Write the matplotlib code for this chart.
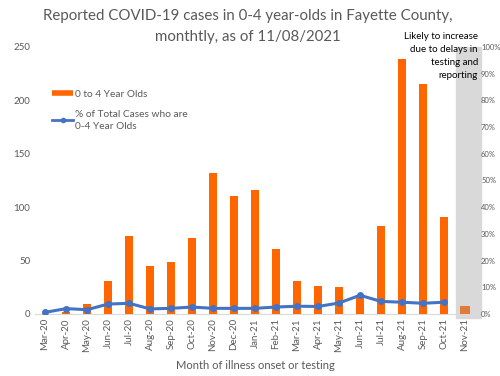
import numpy as np
import matplotlib
matplotlib.use('Agg')
import matplotlib.pyplot as plt
from matplotlib.patches import Rectangle
from matplotlib.lines import Line2D
from matplotlib.ticker import PercentFormatter

plt.rcParams['font.family'] = ['Lato', 'DejaVu Sans']

months = ['Mar-20', 'Apr-20', 'May-20', 'Jun-20', 'Jul-20', 'Aug-20', 'Sep-20',
          'Oct-20', 'Nov-20', 'Dec-20', 'Jan-21', 'Feb-21', 'Mar-21', 'Apr-21',
          'May-21', 'Jun-21', 'Jul-21', 'Aug-21', 'Sep-21', 'Oct-21', 'Nov-21']
cases = [0, 2, 9, 31, 73, 45, 49, 71, 132, 110, 116, 61, 31, 26, 25, 16,
         82, 239, 215, 91, 7]
pct = [0.6, 2.0, 1.6, 3.7, 4.0, 1.9, 2.1, 2.6, 2.1, 2.1, 2.1, 2.6, 2.9, 2.8,
       4.1, 7.0, 4.7, 4.4, 4.0, 4.4]

grey = '#595959'
fig = plt.figure(figsize=(5, 3.76), dpi=100)
ax = fig.add_axes([0.069, 0.165, 0.882, 0.71])

# shaded box for incomplete month
ax.add_patch(Rectangle((456 / 500, 1 - 318 / 376), 25 / 500, 271 / 376,
                       transform=fig.transFigure, color='#D9D9D9', zorder=0,
                       clip_on=False))

x = np.arange(len(months))
colors = ['#FF6600'] * (len(months) - 1) + ['#E07B39']
widths = [0.38] * (len(months) - 1) + [0.45]
ax.bar(x, cases, width=widths, color=colors, zorder=2)
ax.set_xlim(-0.5, len(months) - 0.5)
ax.set_ylim(0, 250)
ax.set_yticks(range(0, 251, 50))
ax.set_xticks(x)
ax.set_xticklabels(months, rotation=90)
ax.tick_params(axis='both', length=0, labelsize=7, colors=grey, pad=3)
for s in ['top', 'right', 'left']:
    ax.spines[s].set_visible(False)
ax.spines['bottom'].set_color('#D9D9D9')
ax.spines['bottom'].set_zorder(1)
ax.patch.set_alpha(0)
ax.set_xlabel('Month of illness onset or testing', fontsize=8, color=grey, labelpad=6)

ax2 = ax.twinx()
ax2.plot(x[:len(pct)], pct, color='#4472C4', lw=2.2, marker='o', ms=4, zorder=3)
ax2.set_ylim(0, 100)
ax2.set_yticks(range(0, 101, 10))
ax2.yaxis.set_major_formatter(PercentFormatter(decimals=0))
ax2.tick_params(axis='y', length=0, labelsize=5.5, colors=grey, pad=4)
for s in ax2.spines.values():
    s.set_visible(False)

# title as two lines
fig.text(0.496, 0.957, 'Reported COVID-19 cases in 0-4 year-olds in Fayette County,',
         ha='center', va='center', fontsize=10.8, color=grey)
fig.text(0.496, 0.902, 'monthtly, as of 11/08/2021',
         ha='center', va='center', fontsize=10.8, color=grey)
fig.text(0.956, 0.915, 'Likely to increase\ndue to delays in\ntesting and\nreporting',
         ha='right', va='top', fontsize=7, color='black', linespacing=1.55)

handles = [Line2D([], [], color='#FF6600', lw=4, solid_capstyle='butt'),
           Line2D([], [], color='#4472C4', lw=2, marker='o', ms=3)]
leg = ax.legend(handles, ['0 to 4 Year Olds', '% of Total Cases who are\n0-4 Year Olds'],
                loc='upper left', bbox_to_anchor=(0.02, 0.875), frameon=False,
                fontsize=7.3, labelcolor=grey, handlelength=2.0, handletextpad=0.2,
                labelspacing=1.1)
for t in leg.get_texts():
    t.set_linespacing(1.5)

fig.savefig('out.png', dpi=100)
